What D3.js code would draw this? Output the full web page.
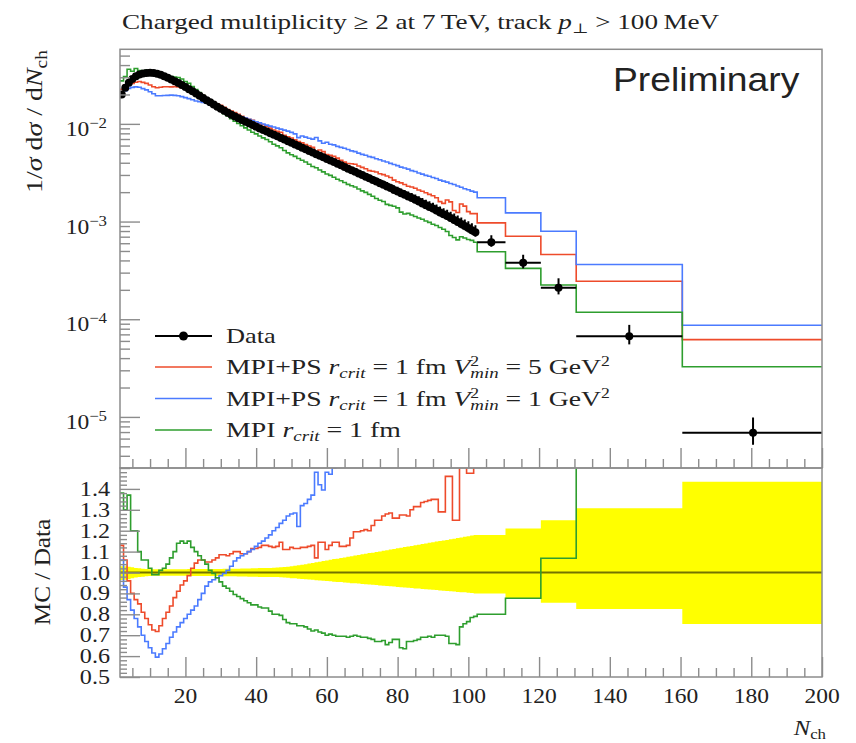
<!DOCTYPE html>
<html>
<head>
<meta charset="utf-8">
<script src="https://cdn.jsdelivr.net/npm/d3@7"></script>
<style>
  body { margin: 0; background: #fff; }
  svg text { font-family: "Liberation Serif", "DejaVu Serif", serif; fill: #222; }
</style>
</head>
<body>
<div id="chart"></div>
<script>
"use strict"

/* Unit-width multiplicity bins, then the wide bins at high N_ch */
const nch = [2,3,4,5,6,7,8,9,10,11,12,13,14,15,16,17,18,19,20,21,22,23,24,25,26,27,28,29,30,31,
  32,33,34,35,36,37,38,39,40,41,42,43,44,45,46,47,48,49,50,51,52,53,54,55,56,57,58,59,60,61,
  62,63,64,65,66,67,68,69,70,71,72,73,74,75,76,77,78,79,80,81,82,83,84,85,86,87,88,89,90,91,
  92,93,94,95,96,97,98,99,100,101,102];
const wideBins = [[102.5, 110.5], [110.5, 120.5], [120.5, 130.5], [130.5, 160.5], [160.5, 200.5]];

/* Data: 1/sigma dsigma/dNch */
const dataVals = [
  0.01995, 0.02344, 0.02642, 0.02884, 0.03069, 0.03199, 0.03281, 0.03327, 0.03334, 0.03311,
  0.03258, 0.03177, 0.03076, 0.02965, 0.02851, 0.02735, 0.02618, 0.02500, 0.02382, 0.02265,
  0.02153, 0.02042, 0.01936, 0.01837, 0.01746, 0.01660, 0.01578, 0.01500, 0.01429, 0.01361,
  0.01300, 0.01242, 0.01189, 0.01140, 0.01094, 0.01052, 0.01012, 0.00973, 0.00935, 0.00899,
  0.00867, 0.00834, 0.00804, 0.00773, 0.00745, 0.00716, 0.00690, 0.00664, 0.00640, 0.00615,
  0.00593, 0.00570, 0.00550, 0.00528, 0.00509, 0.00490, 0.00472, 0.00454, 0.00438, 0.00421,
  0.00406, 0.00390, 0.00376, 0.00361, 0.00348, 0.00335, 0.00323, 0.00310, 0.00299, 0.00288,
  0.00277, 0.00267, 0.00257, 0.00247, 0.00238, 0.00229, 0.00220, 0.00211, 0.00203, 0.00195,
  0.00188, 0.00181, 0.00174, 0.00167, 0.00160, 0.00153, 0.00147, 0.00141, 0.00136, 0.00130,
  0.00124, 0.00119, 0.00114, 0.00109, 0.00104, 0.000991, 0.000944, 0.000899, 0.000857, 0.000817,
  0.000778,
  0.000614, 0.000378, 0.000210, 0.0000670, 0.00000688];

/* Relative data uncertainty (up / down) */
const errUp = [
  0.030, 0.030, 0.028, 0.025, 0.022, 0.020, 0.018, 0.017, 0.016, 0.016,
  0.016, 0.016, 0.016, 0.016, 0.016, 0.016, 0.016, 0.016, 0.016, 0.017,
  0.017, 0.017, 0.017, 0.017, 0.017, 0.017, 0.017, 0.017, 0.017, 0.018,
  0.018, 0.018, 0.018, 0.018, 0.019, 0.019, 0.019, 0.020, 0.020, 0.021,
  0.021, 0.022, 0.022, 0.023, 0.024, 0.025, 0.026, 0.028, 0.030, 0.032,
  0.035, 0.037, 0.040, 0.043, 0.046, 0.049, 0.052, 0.055, 0.058, 0.061,
  0.064, 0.066, 0.069, 0.072, 0.075, 0.078, 0.081, 0.084, 0.087, 0.090,
  0.093, 0.095, 0.098, 0.101, 0.104, 0.107, 0.110, 0.113, 0.116, 0.119,
  0.122, 0.124, 0.127, 0.130, 0.133, 0.136, 0.139, 0.142, 0.145, 0.148,
  0.151, 0.153, 0.156, 0.159, 0.162, 0.165, 0.168, 0.171, 0.174, 0.177,
  0.180,
  0.180, 0.210, 0.250, 0.307, 0.434];
const errDn = [
  0.036, 0.035, 0.032, 0.028, 0.024, 0.022, 0.020, 0.018, 0.017, 0.016,
  0.016, 0.016, 0.016, 0.016, 0.016, 0.016, 0.016, 0.016, 0.016, 0.017,
  0.017, 0.017, 0.017, 0.017, 0.017, 0.017, 0.017, 0.017, 0.017, 0.018,
  0.018, 0.018, 0.018, 0.019, 0.019, 0.019, 0.020, 0.020, 0.020, 0.021,
  0.021, 0.021, 0.022, 0.022, 0.022, 0.023, 0.024, 0.025, 0.027, 0.028,
  0.030, 0.031, 0.032, 0.034, 0.035, 0.037, 0.038, 0.039, 0.041, 0.042,
  0.044, 0.045, 0.046, 0.048, 0.049, 0.051, 0.052, 0.053, 0.055, 0.056,
  0.058, 0.059, 0.060, 0.062, 0.063, 0.065, 0.066, 0.067, 0.069, 0.070,
  0.072, 0.073, 0.074, 0.076, 0.077, 0.079, 0.080, 0.081, 0.083, 0.084,
  0.086, 0.087, 0.088, 0.090, 0.091, 0.093, 0.094, 0.095, 0.097, 0.098,
  0.100,
  0.100, 0.123, 0.145, 0.175, 0.246];

/* MC / Data ratios */
const ratioRed = [
  1.13, 1.06, 0.96, 0.90, 0.87, 0.85, 0.81, 0.78, 0.75, 0.725,
  0.718, 0.745, 0.78, 0.81, 0.84, 0.88, 0.91, 0.94, 0.96, 0.985,
  1.02, 1.045, 1.06, 1.06, 1.05, 1.05, 1.06, 1.07, 1.085, 1.085,
  1.08, 1.09, 1.10, 1.10, 1.09, 1.09, 1.10, 1.115, 1.115, 1.12,
  1.13, 1.13, 1.125, 1.12, 1.125, 1.145, 1.11, 1.11, 1.12, 1.115,
  1.115, 1.12, 1.12, 1.125, 1.13, 1.07, 1.145, 1.145, 1.11, 1.13,
  1.145, 1.145, 1.125, 1.125, 1.13, 1.165, 1.195, 1.195, 1.20, 1.205,
  1.20, 1.225, 1.25, 1.25, 1.27, 1.28, 1.285, 1.26, 1.26, 1.275,
  1.275, 1.27, 1.30, 1.315, 1.315, 1.335, 1.34, 1.345, 1.35, 1.35,
  1.29, 1.29, 1.46, 1.46, 1.25, 1.25, 1.60, 1.60, 1.475, 1.475,
  1.55,
  1.58, 1.87, 2.19, 3.66, 9.0];
const ratioBlue = [
  1.06, 0.93, 0.87, 0.82, 0.78, 0.74, 0.70, 0.67, 0.64, 0.615,
  0.595, 0.61, 0.635, 0.66, 0.69, 0.715, 0.74, 0.76, 0.78, 0.80,
  0.82, 0.84, 0.87, 0.90, 0.935, 0.955, 0.965, 0.975, 0.985, 0.995,
  1.01, 1.03, 1.055, 1.07, 1.08, 1.09, 1.10, 1.11, 1.125, 1.14,
  1.15, 1.165, 1.18, 1.20, 1.215, 1.235, 1.25, 1.27, 1.28, 1.285,
  1.22, 1.32, 1.33, 1.35, 1.37, 1.48, 1.42, 1.395, 1.48, 1.47,
  1.50, 1.51, 1.53, 1.56, 1.57, 1.58, 1.61, 1.62, 1.63, 1.66,
  1.67, 1.70, 1.71, 1.74, 1.75, 1.78, 1.79, 1.82, 1.84, 1.85,
  1.88, 1.90, 1.91, 1.95, 1.96, 2.00, 2.02, 2.06, 2.08, 2.12,
  2.14, 2.18, 2.22, 2.25, 2.30, 2.33, 2.38, 2.41, 2.47, 2.51,
  2.57,
  2.85, 3.25, 3.79, 5.42, 12.6];
const ratioGreen = [
  1.38, 1.30, 1.37, 1.20, 1.20, 1.10, 1.06, 1.06, 1.02, 0.99,
  0.99, 1.01, 1.02, 1.04, 1.07, 1.10, 1.14, 1.15, 1.14, 1.15,
  1.12, 1.10, 1.08, 1.06, 1.04, 1.01, 0.995, 0.975, 0.955, 0.935,
  0.925, 0.91, 0.895, 0.885, 0.875, 0.865, 0.855, 0.845, 0.845, 0.835,
  0.83, 0.83, 0.815, 0.80, 0.80, 0.795, 0.775, 0.76, 0.755, 0.755,
  0.745, 0.745, 0.74, 0.73, 0.72, 0.725, 0.715, 0.71, 0.70, 0.705,
  0.70, 0.695, 0.695, 0.695, 0.69, 0.695, 0.70, 0.695, 0.69, 0.69,
  0.685, 0.68, 0.67, 0.67, 0.675, 0.655, 0.665, 0.68, 0.68, 0.64,
  0.635, 0.67, 0.67, 0.675, 0.68, 0.69, 0.69, 0.695, 0.69, 0.70,
  0.70, 0.70, 0.695, 0.66, 0.66, 0.655, 0.74, 0.755, 0.765, 0.785,
  0.79,
  0.80, 0.877, 1.068, 1.76, 4.74];

const mcColors = ["#ee4b2b", "#4b7bff", "#2e9e2e"];
const xTicks = [20, 40, 60, 80, 100, 120, 140, 160, 180, 200];
const logTicks = [1e-5, 1e-4, 1e-3, 1e-2];
const ratioTicks = [0.5, 0.6, 0.7, 0.8, 0.9, 1.0, 1.1, 1.2, 1.3, 1.4];

let bins = nch.map(n => [n - 0.5, n + 0.5]).concat(wideBins);

let svg = d3.select("#chart").append("svg")
    .attr("width", 856)
    .attr("height", 743);

svg.append("rect").attr("width", 856).attr("height", 743).attr("fill", "white");

/* Scales */
let x = d3.scaleLinear().domain([1.5, 200]).range([120, 822]);
let y = d3.scaleLog().domain([3e-6, 0.058]).range([468, 49.3]);
let yr = d3.scaleLinear().domain([0.5, 1.5]).range([677, 468]);

let defs = svg.append("defs");
defs.append("clipPath").attr("id", "clipMain").append("rect")
    .attr("x", 120).attr("y", 49.3).attr("width", 702).attr("height", 418.7);
defs.append("clipPath").attr("id", "clipRatio").append("rect")
    .attr("x", 120).attr("y", 468).attr("width", 702).attr("height", 209);

function stepPoints(vals) {
    let pts = [];
    bins.forEach((b, i) => {
        pts.push([b[0], vals[i]], [Math.min(b[1], 200), vals[i]]);
    });
    return pts;
}

/* text helpers: the reference fonts are a bit wider than Times */
function stretch(t, px, py, k, rot) {
    t.attr("transform", `translate(${px},${py})` + (rot ? ` rotate(${rot})` : "") + ` scale(${k},1)`);
}
function fitTo(t, px, py, w, rot) {
    let bw = t.node().getBBox().width;
    stretch(t, px, py, w / bw, rot);
}

/* ===== MAIN PANEL ===== */
let main = svg.append("g").attr("clip-path", "url(#clipMain)");
let mainLine = d3.line().x(d => x(d[0])).y(d => y(d[1]));

let mcRatios = [ratioRed, ratioBlue, ratioGreen];
mcRatios.forEach((r, k) => {
    let vals = dataVals.map((d, i) => d * r[i]);
    main.append("path")
        .attr("d", mainLine(stepPoints(vals)))
        .attr("fill", "none")
        .attr("stroke", mcColors[k])
        .attr("stroke-width", 1.6);
});

/* Data points with error bars */
let pts = main.append("g");
bins.forEach((b, i) => {
    let v = dataVals[i];
    let cx = x((b[0] + b[1]) / 2);
    pts.append("line")
        .attr("x1", x(b[0])).attr("x2", x(Math.min(b[1], 200)))
        .attr("y1", y(v)).attr("y2", y(v))
        .attr("stroke", "black").attr("stroke-width", 2);
    pts.append("line")
        .attr("x1", cx).attr("x2", cx)
        .attr("y1", y(v * (1 + errUp[i]))).attr("y2", y(v * (1 - errDn[i])))
        .attr("stroke", "black").attr("stroke-width", 2);
    pts.append("circle")
        .attr("cx", cx).attr("cy", y(v)).attr("r", 4)
        .attr("fill", "black");
});

/* ===== RATIO PANEL ===== */
let ratio = svg.append("g").attr("clip-path", "url(#clipRatio)");

let bandPts = [];
bins.forEach((b, i) => {
    let hi = Math.min(b[1], 200);
    bandPts.push([b[0], 1 + errUp[i], 1 - errDn[i]], [hi, 1 + errUp[i], 1 - errDn[i]]);
});
ratio.append("path")
    .attr("d", d3.area().x(d => x(d[0])).y0(d => yr(d[2])).y1(d => yr(d[1]))(bandPts))
    .attr("fill", "#ffff00");

ratio.append("line")
    .attr("x1", 120).attr("x2", 822)
    .attr("y1", yr(1)).attr("y2", yr(1))
    .attr("stroke", "black").attr("stroke-opacity", 0.55).attr("stroke-width", 2);

let ratioLine = d3.line().x(d => x(d[0])).y(d => yr(d[1]));
mcRatios.forEach((r, k) => {
    ratio.append("path")
        .attr("d", ratioLine(stepPoints(r)))
        .attr("fill", "none")
        .attr("stroke", mcColors[k])
        .attr("stroke-width", 1.6);
});

/* ===== AXES ===== */
let tickColor = "#8c8c8c";
function styleAxis(g) {
    g.select(".domain").remove();
    g.selectAll("line").attr("stroke", tickColor).attr("stroke-width", 1.4);
}

let minorLog = [];
[-6, -5, -4, -3, -2].forEach(e => {
    for (let k = 2; k <= 9; k++) {
        let v = k * Math.pow(10, e);
        if (v >= 3e-6 && v <= 0.058) minorLog.push(v);
    }
});
svg.append("g").attr("transform", "translate(120,0)")
    .call(d3.axisRight(y).tickValues(logTicks).tickSize(20).tickFormat(""))
    .call(styleAxis);
svg.append("g").attr("transform", "translate(120,0)")
    .call(d3.axisRight(y).tickValues(minorLog).tickSize(10).tickFormat(""))
    .call(styleAxis);

let xMinor = d3.range(5, 201, 5).filter(v => v % 20 !== 0);
[468, 677].forEach(py => {
    svg.append("g").attr("transform", `translate(0,${py})`)
        .call(d3.axisTop(x).tickValues(xTicks).tickSize(20).tickFormat(""))
        .call(styleAxis);
    svg.append("g").attr("transform", `translate(0,${py})`)
        .call(d3.axisTop(x).tickValues(xMinor).tickSize(9).tickFormat(""))
        .call(styleAxis);
});

let rMinor = d3.range(0.52, 1.5, 0.02).filter(v => Math.abs(v * 10 - Math.round(v * 10)) > 0.01);
svg.append("g").attr("transform", "translate(120,0)")
    .call(d3.axisRight(yr).tickValues(ratioTicks).tickSize(20).tickFormat(""))
    .call(styleAxis);
svg.append("g").attr("transform", "translate(120,0)")
    .call(d3.axisRight(yr).tickValues(rMinor).tickSize(7).tickFormat(""))
    .call(styleAxis);

/* frames */
svg.append("rect").attr("x", 120).attr("y", 49.3).attr("width", 702).attr("height", 418.7)
    .attr("fill", "none").attr("stroke", tickColor).attr("stroke-width", 1.5);
svg.append("rect").attr("x", 120).attr("y", 468).attr("width", 702).attr("height", 209)
    .attr("fill", "none").attr("stroke", tickColor).attr("stroke-width", 1.5);

/* tick labels */
logTicks.forEach(v => {
    let t = svg.append("text").attr("text-anchor", "end").attr("font-size", 21);
    t.append("tspan").text("10");
    t.append("tspan").attr("font-size", 15).attr("dy", -8).text("\u2212" + Math.round(-Math.log10(v)));
    stretch(t, 107, y(v) + 12, 1.12);
});
ratioTicks.forEach(v => {
    let t = svg.append("text").attr("text-anchor", "end").attr("font-size", 21).text(v.toFixed(1));
    stretch(t, 110, yr(v) + 7, 1.15);
});
xTicks.forEach(v => {
    let t = svg.append("text").attr("text-anchor", "middle").attr("font-size", 21).text(v);
    stretch(t, x(v), 703, 1.12);
});

/* axis titles */
let xl = svg.append("text").attr("text-anchor", "end").attr("font-size", 22);
xl.append("tspan").attr("font-style", "italic").text("N");
xl.append("tspan").attr("font-size", 15).attr("dy", 4).text("ch");
stretch(xl, 826, 735, 1.12);

let yl = svg.append("text").attr("font-size", 23);
yl.append("tspan").text("1/");
yl.append("tspan").attr("font-style", "italic").text("σ");
yl.append("tspan").text(" d");
yl.append("tspan").attr("font-style", "italic").text("σ");
yl.append("tspan").text(" / d");
yl.append("tspan").attr("font-style", "italic").text("N");
yl.append("tspan").attr("font-size", 16).attr("dy", 5).text("ch");
fitTo(yl, 42, 193, 143, -90);

let rl = svg.append("text").attr("font-size", 24).attr("text-anchor", "middle").text("MC / Data");
fitTo(rl, 50, 572, 107, -90);

/* title */
let title = svg.append("text").attr("font-size", 21.5);
title.append("tspan").text("Charged multiplicity \u2265 2 at 7\u2009TeV, track ");
title.append("tspan").attr("font-style", "italic").text("p");
title.append("tspan").attr("font-size", 14).attr("dy", 4).text("\u22A5");
title.append("tspan").attr("dy", -4).text(" > 100\u2009MeV");
fitTo(title, 122, 29, 598);

let pre = svg.append("text")
    .style("font-family", "'Liberation Sans', Arial, sans-serif")
    .attr("font-size", 33).attr("fill", "black").text("Preliminary");
fitTo(pre, 613, 91, 187);

/* ===== LEGEND ===== */
let legend = svg.append("g");
let rowY = [336, 367, 398.5, 430];
let rowW = [50, 384, 384, 175];

function addLabel(t, parts) {
    parts.forEach(p => {
        let s = t.append("tspan").text(p.s);
        if (p.i) s.attr("font-style", "italic");
        if (p.fs) s.attr("font-size", p.fs);
        if (p.dy) s.attr("dy", p.dy);
        if (p.dx) s.attr("dx", p.dx);
    });
}
function vminLabel(val) {
    return [
        {s: "MPI+PS "}, {s: "r", i: 1}, {s: "crit", i: 1, fs: 15, dy: 4},
        {s: " = 1 fm ", dy: -4}, {s: "V", i: 1}, {s: "2", fs: 14, dy: -8},
        {s: "min", i: 1, fs: 15, dy: 12, dx: -7}, {s: " = " + val + " GeV", dy: -4},
        {s: "2", fs: 14, dy: -8}
    ];
}
let labels = [
    [{s: "Data"}],
    vminLabel(5),
    vminLabel(1),
    [{s: "MPI "}, {s: "r", i: 1}, {s: "crit", i: 1, fs: 15, dy: 4}, {s: " = 1 fm", dy: -4}]
];
let legColors = ["black"].concat(mcColors);

labels.forEach((parts, i) => {
    legend.append("line")
        .attr("x1", 155).attr("x2", 212)
        .attr("y1", rowY[i]).attr("y2", rowY[i])
        .attr("stroke", legColors[i]).attr("stroke-width", i === 0 ? 2 : 1.6);
    if (i === 0) {
        legend.append("circle").attr("cx", 183.5).attr("cy", rowY[i]).attr("r", 4.5).attr("fill", "black");
    }
    let t = legend.append("text").attr("font-size", 22);
    addLabel(t, parts);
    fitTo(t, 226, rowY[i] + 7, rowW[i]);
});
</script>
</body>
</html>
